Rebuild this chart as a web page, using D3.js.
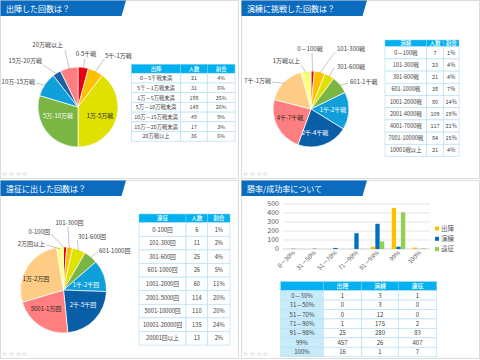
<!DOCTYPE html>
<html><head><meta charset="utf-8">
<script src="https://cdn.jsdelivr.net/npm/d3@7"></script>
<style>html,body{margin:0;padding:0;background:#fff;} svg{display:block;font-family:"Noto Sans CJK JP","Noto Sans",sans-serif;}</style>
</head><body><svg id="c" width="480" height="360"></svg>
<script>
// ---------------- data ----------------
const titles = ["出陣した回数は？", "演練に挑戦した回数は？", "遠征に出した回数は？", "勝率/成功率について"];

// panel 1: 出陣
const shutsujinHeader = ["出陣", "人数", "割合"];
const shutsujinRanges = ["0－5千戦未満", "5千－1万戦未満", "1万－5万戦未満", "5万－10万戦未満", "10万－15万戦未満", "15万－20万戦未満", "20万戦以上"];
const shutsujinCounts = [21, 31, 198, 148, 49, 17, 36];
const shutsujinPct = ["4%", "6%", "35%", "26%", "9%", "3%", "6%"];
const shutsujinPieLabels = ["0-5千戦", "5千-1万戦", "1万-5万戦", "5万-10万戦", "10万-15万戦", "15万-20万戦", "20万戦以上"];

// panel 2: 演練
const enrenHeader = ["演練", "人数", "割合"];
const enrenRanges = ["0－100戦", "101-300戦", "301-600戦", "601-1000戦", "1001-2000戦", "2001-4000戦", "4001-7000戦", "7001-10000戦", "10001戦以上"];
const enrenCounts = [7, 23, 21, 38, 80, 109, 117, 84, 21];
const enrenPct = ["1%", "4%", "4%", "7%", "14%", "19%", "21%", "15%", "4%"];
const enrenPieLabels = ["0－100戦", "101-300戦", "301-600戦", "601-1千戦", "1千-2千戦", "2千-4千戦", "4千-7千戦", "7千-1万戦", "1万戦以上"];

// panel 3: 遠征
const enseiHeader = ["遠征", "人数", "割合"];
const enseiRanges = ["0-100回", "101-300回", "301-600回", "601-1000回", "1001-2000回", "2001-5000回", "5001-10000回", "10001-20000回", "20001回以上"];
const enseiCounts = [6, 11, 25, 26, 60, 114, 110, 135, 13];
const enseiPct = ["1%", "2%", "4%", "5%", "11%", "20%", "20%", "24%", "2%"];
const enseiPieLabels = ["0-100回", "101-300回", "301-600回", "601-1000回", "1千-2千回", "2千-5千回", "5001-1万回", "1万-2万回", "2万回以上"];

// panel 4: 勝率/成功率
const rateCategories = ["0－30%", "31－50%", "51－70%", "71－90%", "91－98%", "99%", "100%"];
const seriesNames = ["出陣", "演練", "遠征"];
const rateShutsujin = [1, 0, 0, 1, 25, 457, 16];
const rateEnren = [3, 3, 12, 175, 280, 26, 1];
const rateEnsei = [1, 0, 0, 2, 83, 407, 7];
const yTicks = [0, 100, 200, 300, 400, 500];

// ---------------- styles ----------------
const pal7 = ["#e60012", "#ffc000", "#e1e100", "#7bb544", "#0fa0dc", "#1b5fa6", "#ff7f80"];
const pal9 = ["#e60012", "#ffc000", "#e1e100", "#7bb544", "#0fa0dc", "#0a5ea8", "#ff7f80", "#ffcc85", "#ffff80"];
const seriesColors = ["#ffc000", "#0070c0", "#92d050"];
const titleBlue = "#0b6cbf";
const headBlue = "#00b0f0";
const cellLine = "#b7e1f5";
const txt = "#404040";

const svg = d3.select("#c");

// ---------------- panel chrome ----------------
const panels = [[0, 0.5], [241, 0.5], [0, 180.5], [241, 180.5]];
svg.append("g").selectAll("rect").data(panels).join("rect")
  .attr("x", d => d[0] + 0.5).attr("y", d => d[1])
  .attr("width", 238).attr("height", 178)
  .attr("fill", "#fff").attr("stroke", "#dcdcdc").attr("stroke-width", 1);

panels.forEach((p, i) => {
  const g = svg.append("g").attr("transform", `translate(${p[0]},${p[1]})`);
  g.append("path").attr("d", "M0.5,0 L126,0 L121.5,15.5 L0.5,15.5 Z").attr("fill", titleBlue);
  g.append("text").attr("x", 6).attr("y", 11).attr("fill", "#fff")
    .attr("font-size", 8).text(titles[i]);
  // tiny slide icons bottom-left
  const ic = g.append("g").attr("fill", "none").attr("stroke", "#d4d4d4").attr("stroke-width", 0.6);
  [3, 10, 17, 23].forEach(x => ic.append("rect").attr("x", x).attr("y", 172.5).attr("width", 3).attr("height", 2));
});

// ---------------- pie helper ----------------
function drawPie(cx, cy, r, counts, colors, labels, layout) {
  const g = svg.append("g").attr("transform", `translate(${cx},${cy})`);
  const arcs = d3.pie().sort(null).value(d => d)(counts);
  const arc = d3.arc().innerRadius(0).outerRadius(r);
  g.selectAll("path").data(arcs).join("path")
    .attr("d", arc).attr("fill", (d, i) => colors[i])
    .attr("stroke", "#fff").attr("stroke-width", 0.7);
  arcs.forEach((a, i) => {
    const L = layout[i];
    if (L.l) {
      const m = (a.startAngle + a.endAngle) / 2;
      const rr = r * 0.96;
      g.append("line")
        .attr("x1", Math.sin(m) * rr).attr("y1", -Math.cos(m) * rr)
        .attr("x2", L.l[0]).attr("y2", L.l[1])
        .attr("stroke", "#8c8c8c").attr("stroke-width", 0.5);
    }
    g.append("text").attr("x", L.t[0]).attr("y", L.t[1])
      .attr("text-anchor", L.a).attr("font-size", 6)
      .attr("fill", L.c || txt).text(labels[i]);
  });
}

// label layouts (positions relative to pie centre)
const lay1 = [
  {t: [8, -51], a: "middle", l: [7, -48]},
  {t: [27, -49], a: "start", l: [26, -48]},
  {t: [22, 11], a: "middle", c: "#262626"},
  {t: [-20, 11], a: "middle", c: "#fff"},
  {t: [-43, -23], a: "end", l: [-42, -24]},
  {t: [-36, -44], a: "end", l: [-35, -42]},
  {t: [-15, -60], a: "end", l: [-13, -57]}
];
const lay2 = [
  {t: [-1, -58], a: "middle", l: [1, -56]},
  {t: [26, -58], a: "start", l: [24, -57]},
  {t: [26, -40], a: "start", l: [23, -41]},
  {t: [39, -25], a: "start", l: [37, -26]},
  {t: [22, 3], a: "middle", c: "#fff"},
  {t: [4, 26], a: "middle", c: "#fff"},
  {t: [-21, 11], a: "middle", c: "#262626"},
  {t: [-40, -26], a: "end", l: [-39, -27]},
  {t: [-11, -46], a: "end", l: [-10, -44]}
];
const lay3 = [
  {t: [-13.5, -56], a: "end", l: [-12.5, -56]},
  {t: [6, -65], a: "middle", l: [4.5, -63]},
  {t: [14.5, -51], a: "start", l: [14, -50]},
  {t: [35.5, -37], a: "start", l: [34.5, -38]},
  {t: [22.5, -3], a: "middle", c: "#fff"},
  {t: [19.5, 17], a: "middle", c: "#fff"},
  {t: [-17.5, 21], a: "middle", c: "#262626"},
  {t: [-27.5, -9], a: "middle", c: "#262626"},
  {t: [-18.5, -44], a: "end", l: [-17, -45]}
];

drawPie(78, 107, 40, shutsujinCounts, pal7, shutsujinPieLabels, lay1);
drawPie(311, 109, 38, enrenCounts, pal9, enrenPieLabels, lay2);
drawPie(63.5, 290, 43, enseiCounts, pal9, enseiPieLabels, lay3);

// ---------------- table helper ----------------
function drawTable(x0, y0, colW, headH, rowH, header, rows, fs, firstColFill) {
  const g = svg.append("g");
  const colX = [x0];
  colW.forEach(w => colX.push(colX[colX.length - 1] + w));
  header.forEach((h, j) => {
    g.append("rect").attr("x", colX[j]).attr("y", y0).attr("width", colW[j]).attr("height", headH)
      .attr("fill", headBlue).attr("stroke", "#7fd3f5").attr("stroke-width", 0.5);
    g.append("text").attr("x", colX[j] + colW[j] / 2).attr("y", y0 + headH / 2 + fs * 0.36)
      .attr("text-anchor", "middle").attr("font-size", fs).attr("fill", "#fff").attr("font-weight", 500).text(h);
  });
  rows.forEach((row, i) => {
    const y = y0 + headH + i * rowH;
    row.forEach((v, j) => {
      g.append("rect").attr("x", colX[j]).attr("y", y).attr("width", colW[j]).attr("height", rowH)
        .attr("fill", (j === 0 && firstColFill) ? firstColFill : "#fff")
        .attr("stroke", cellLine).attr("stroke-width", 0.7);
      g.append("text").attr("x", colX[j] + colW[j] / 2).attr("y", y + rowH / 2 + fs * 0.38)
        .attr("text-anchor", "middle").attr("font-size", fs).attr("fill", txt).text(v);
    });
  });
}

drawTable(131.5, 64.3, [49.2, 26.6, 27.7], 9, 9.7, shutsujinHeader,
  shutsujinRanges.map((r, i) => [r, shutsujinCounts[i], shutsujinPct[i]]), 5.3);
drawTable(385, 40, [41.7, 16.6, 15.7], 6.7, 12.2, enrenHeader,
  enrenRanges.map((r, i) => [r, enrenCounts[i], enrenPct[i]]), 5.5);
drawTable(139, 214, [47, 21.7, 22.3], 8.7, 13.6, enseiHeader,
  enseiRanges.map((r, i) => [r, enseiCounts[i], enseiPct[i]]), 5.7);
drawTable(280.7, 281.7, [42.6, 38.4, 36.6, 38.4], 9, 9.43, [""].concat(seriesNames),
  rateCategories.map((c, i) => [c, rateShutsujin[i], rateEnren[i], rateEnsei[i]]), 6, "#c8ebfa");

// ---------------- bar chart ----------------
const seriesVals = [rateShutsujin, rateEnren, rateEnsei];
const x0s = d3.scaleBand().domain(rateCategories).range([283, 430]).paddingInner(0.33).paddingOuter(0.165);
const x1s = d3.scaleBand().domain(seriesNames).range([0, x0s.bandwidth()]).padding(0.06);
const ys = d3.scaleLinear().domain([0, 500]).range([249, 204]);
const bc = svg.append("g");
bc.append("g").selectAll("line").data(yTicks).join("line")
  .attr("x1", 283).attr("x2", 430).attr("y1", d => ys(d)).attr("y2", d => ys(d))
  .attr("stroke", d => d === 0 ? "#bfbfbf" : "#d9d9d9").attr("stroke-width", 0.7);
bc.append("g").selectAll("text").data(yTicks).join("text")
  .attr("x", 279).attr("y", d => ys(d) + 2.4).attr("text-anchor", "end")
  .attr("font-size", 7).attr("fill", "#595959").text(d => d);
rateCategories.forEach((c, i) => {
  seriesNames.forEach((s, k) => {
    const v = seriesVals[k][i];
    bc.append("rect").attr("x", x0s(c) + x1s(s)).attr("width", x1s.bandwidth())
      .attr("y", ys(v)).attr("height", ys(0) - ys(v)).attr("fill", seriesColors[k]);
  });
  const cxp = x0s(c) + x0s.bandwidth() / 2;
  bc.append("text").attr("transform", `translate(${cxp + 2},${253}) rotate(-45)`)
    .attr("text-anchor", "end").attr("font-size", 6).attr("fill", "#595959").text(c);
});
seriesNames.forEach((s, k) => {
  const y = 228.5 + k * 10.3;
  bc.append("rect").attr("x", 435).attr("y", y - 2).attr("width", 4).attr("height", 4).attr("fill", seriesColors[k]);
  bc.append("text").attr("x", 441).attr("y", y + 2.2).attr("font-size", 6.5).attr("fill", "#595959").text(s);
});
</script></body></html>
